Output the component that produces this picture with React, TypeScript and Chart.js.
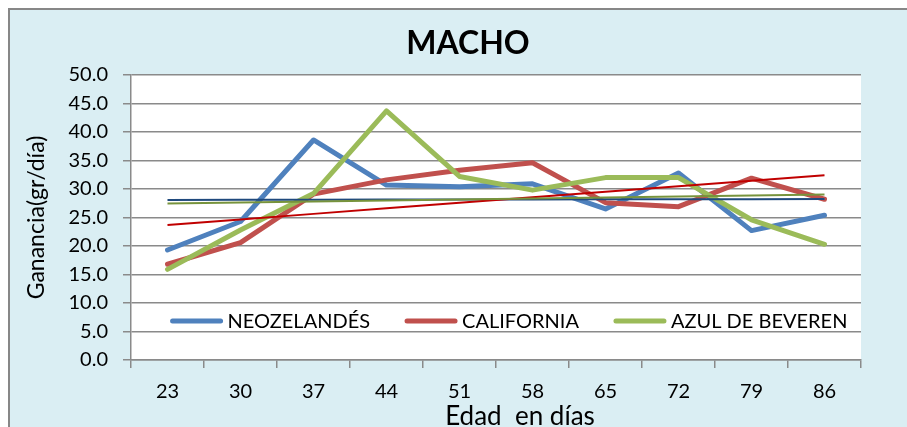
import React, { useEffect, useRef } from 'react';
import { Chart, registerables } from 'chart.js';

Chart.register(...registerables);

// ---------- data ----------
const categories = ['23', '30', '37', '44', '51', '58', '65', '72', '79', '86'];
const neozelandes = [19.3, 24.3, 38.6, 30.7, 30.4, 30.9, 26.5, 32.8, 22.7, 25.4];
const california = [16.8, 20.6, 29.1, 31.6, 33.3, 34.6, 27.6, 26.9, 31.9, 28.2];
const azulDeBeveren = [15.9, 22.8, 29.2, 43.7, 32.2, 29.8, 32.0, 32.0, 24.6, 20.3];
const seriesNames = ['NEOZELANDÉS', 'CALIFORNIA', 'AZUL DE BEVEREN'];
const yMin = 0;
const yMax = 50;
const yStep = 5;
const chartTitle = 'MACHO';
const xTitle = 'Edad  en días';
const yTitle = 'Ganancia(gr/día)';

// linear (least squares) trendline, as Excel's "linear trendline"
function linearTrend(values: number[]): number[] {
  const n = values.length;
  const mx = (n - 1) / 2;
  const my = values.reduce((a, b) => a + b, 0) / n;
  let sxy = 0;
  let sxx = 0;
  values.forEach((v, i) => {
    sxy += (i - mx) * (v - my);
    sxx += (i - mx) * (i - mx);
  });
  const slope = sxy / sxx;
  return values.map((_, i) => my + slope * (i - mx));
}

const FONT = 'Lato';
const GRID = '#8a8a8a';

const decorPlugin = {
  id: 'decor',
  beforeDraw(chart: any) {
    const { ctx, width, height, chartArea } = chart;
    ctx.save();
    ctx.fillStyle = '#ffffff';
    ctx.fillRect(0, 0, width, height);
    ctx.fillStyle = '#DAEEF3';
    ctx.fillRect(8, 8, width - 8, height - 8);
    ctx.strokeStyle = '#878787';
    ctx.lineWidth = 2;
    ctx.beginPath();
    ctx.moveTo(9, height);
    ctx.lineTo(9, 9);
    ctx.lineTo(width, 9);
    ctx.stroke();
    ctx.fillStyle = '#ffffff';
    ctx.fillRect(chartArea.left, chartArea.top, chartArea.right - chartArea.left, chartArea.bottom - chartArea.top);
    ctx.restore();
  },
  afterDraw(chart: any) {
    const { ctx, chartArea } = chart;
    ctx.save();
    // title
    ctx.fillStyle = '#000';
    ctx.textAlign = 'center';
    ctx.textBaseline = 'alphabetic';
    ctx.font = `bold 32px ${FONT}`;
    ctx.fillText(chartTitle, 468, 54);
    // x axis title
    ctx.font = `26px ${FONT}`;
    ctx.fillText(xTitle, 520, 425);
    // legend inside plot area
    const items = chart.data.datasets.filter((d: any) => !d.isTrend);
    ctx.font = `20px ${FONT}`;
    const sample = 52;
    const gapText = 5;
    const gapItem = 35;
    const widths = items.map((d: any) => ctx.measureText(d.label).width);
    const total = widths.reduce((a: number, w: number) => a + sample + gapText + w, 0) + gapItem * (items.length - 1);
    let x = 509 - total / 2;
    const y = 321;
    ctx.textAlign = 'left';
    items.forEach((d: any, i: number) => {
      ctx.strokeStyle = d.borderColor;
      ctx.lineWidth = 5;
      ctx.lineCap = 'round';
      ctx.beginPath();
      ctx.moveTo(x + 2, y);
      ctx.lineTo(x + sample - 2, y);
      ctx.stroke();
      x += sample + gapText;
      ctx.fillStyle = '#000';
      ctx.fillText(d.label, x, y + 7);
      x += widths[i] + gapItem;
    });
    ctx.restore();
  },
};

export default function App() {
  const ref = useRef<HTMLCanvasElement | null>(null);

  useEffect(() => {
    if (!ref.current) return;
    Chart.defaults.font.family = FONT;
    const series = [
      { label: seriesNames[0], data: neozelandes, color: '#4F81BD', trend: '#1F497D', order: 6, tOrder: 3 },
      { label: seriesNames[1], data: california, color: '#C0504D', trend: '#C00000', order: 5, tOrder: 2 },
      { label: seriesNames[2], data: azulDeBeveren, color: '#9BBB59', trend: '#77933C', order: 4, tOrder: 1 },
    ];
    const datasets: any[] = [];
    series.forEach((s) => {
      datasets.push({
        label: s.label,
        data: s.data,
        borderColor: s.color,
        backgroundColor: s.color,
        borderWidth: 5,
        pointRadius: 0,
        tension: 0,
        borderJoinStyle: 'round',
        borderCapStyle: 'round',
        order: s.order,
      });
    });
    series.forEach((s) => {
      datasets.push({
        label: 'Lineal (' + s.label + ')',
        isTrend: true,
        data: linearTrend(s.data),
        borderColor: s.trend,
        backgroundColor: s.trend,
        borderWidth: 2,
        pointRadius: 0,
        tension: 0,
        order: s.tOrder,
      });
    });

    const chart = new Chart(ref.current, {
      type: 'line',
      data: { labels: categories, datasets },
      options: {
        responsive: false,
        animation: false,
        layout: { padding: { left: 0, right: 46, top: 75, bottom: 0 } },
        plugins: {
          legend: { display: false },
          title: { display: false },
          tooltip: { enabled: false },
        },
        scales: {
          x: {
            offset: true,
            grid: {
              offset: true,
              drawOnChartArea: false,
              drawTicks: true,
              tickLength: 8,
              color: GRID,
              lineWidth: 1.5,
            },
            border: { display: true, color: GRID, width: 1.5 },
            ticks: { color: '#000', font: { size: 20, family: FONT }, padding: 12, maxRotation: 0, autoSkip: false },
            afterFit: (scale: any) => {
              scale.height = 67;
            },
          },
          y: {
            min: yMin,
            max: yMax,
            grid: { color: GRID, lineWidth: 1.5, tickLength: 8, drawTicks: true },
            border: { display: true, color: GRID, width: 1.5 },
            ticks: {
              stepSize: yStep,
              color: '#000',
              font: { size: 20, family: FONT },
              padding: 15,
              callback: (v: any) => Number(v).toFixed(1),
            },
            title: {
              display: true,
              text: yTitle,
              color: '#000',
              font: { size: 23, family: FONT },
              padding: { top: 23, bottom: 0 },
            },
            afterFit: (scale: any) => {
              scale.width = 131;
            },
          },
        },
      },
      plugins: [decorPlugin],
    } as any);
    return () => chart.destroy();
  }, []);

  return (
    <div style={{ position: 'fixed', left: 0, top: 0, width: 907, height: 427, overflow: 'hidden' }}>
      <canvas ref={ref} width={907} height={427} style={{ display: 'block', width: 907, height: 427 }} />
    </div>
  );
}
